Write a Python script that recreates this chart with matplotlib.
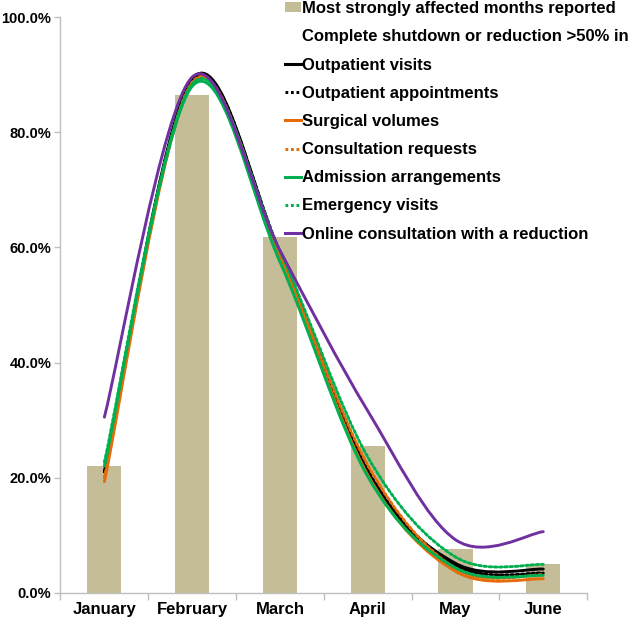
import numpy as np
import matplotlib
matplotlib.use('Agg')
from matplotlib import pyplot as plt
from matplotlib.path import Path
from matplotlib.patches import PathPatch, Patch
from matplotlib.lines import Line2D

# data (percent)
months = ['January', 'February', 'March', 'April', 'May', 'June']
most_affected = [22.0, 86.5, 61.8, 25.5, 7.6, 4.9]

outpatient_visits = [21.0, 89.3, 59.0, 20.8, 5.1, 4.1]
outpatient_appointments = [21.0, 89.0, 59.3, 21.3, 4.8, 3.4]
surgical_volumes = [19.3, 88.5, 58.0, 20.5, 3.7, 2.4]
consultation_requests = [20.0, 88.7, 58.6, 22.2, 4.2, 3.1]
admission_arrangements = [22.0, 88.0, 57.5, 20.2, 4.3, 3.0]
emergency_visits = [22.7, 88.4, 59.3, 23.6, 6.2, 4.9]
online_consultation = [30.5, 89.6, 59.5, 31.6, 9.2, 10.6]

series = [
    ('Outpatient visits', outpatient_visits, '#000000', '-'),
    ('Outpatient appointments', outpatient_appointments, '#000000', ':'),
    ('Surgical volumes', surgical_volumes, '#E46C0A', '-'),
    ('Consultation requests', consultation_requests, '#E46C0A', ':'),
    ('Admission arrangements', admission_arrangements, '#00B050', '-'),
    ('Emergency visits', emergency_visits, '#00B050', ':'),
    ('Online consultation with a reduction', online_consultation, '#7030A0', '-'),
]

plt.rcParams['font.family'] = ['Liberation Sans', 'DejaVu Sans']
plt.rcParams['font.weight'] = 'bold'


def smooth_path(xs, ys):
    # excel-like smoothed line: catmull-rom as cubic bezier
    pts = np.column_stack([xs, ys]).astype(float)
    ext = np.vstack([pts[0], pts, pts[-1]])
    verts = [pts[0]]
    codes = [Path.MOVETO]
    for i in range(len(pts) - 1):
        p0, p1, p2, p3 = ext[i], ext[i + 1], ext[i + 2], ext[i + 3]
        verts += [p1 + (p2 - p0) / 6, p2 - (p3 - p1) / 6, p2]
        codes += [Path.CURVE4] * 3
    return Path(verts, codes)


fig = plt.figure(figsize=(6.3, 6.18), dpi=100)
ax = fig.add_axes([0.096, 0.041, 0.836, 0.931])

x = np.arange(len(months))
ax.bar(x, most_affected, width=0.39, color='#C4BD97', zorder=1)

dot = (0, (0.9, 0.9))
for name, vals, col, ls in series:
    style = dot if ls == ':' else '-'
    ax.add_patch(PathPatch(smooth_path(x, vals), facecolor='none', edgecolor=col,
                           lw=2.1, linestyle=style, capstyle='round', zorder=3))

ax.set_xlim(-0.5, len(months) - 0.5)
ax.set_ylim(0, 100)
ax.set_yticks(np.arange(0, 101, 20))
ax.set_yticklabels(['%.1f%%' % v for v in np.arange(0, 101, 20)])
ax.set_xticks(x)
ax.set_xticklabels(months)
ax.set_xticks(np.arange(-0.5, len(months)), minor=True)
ax.tick_params(axis='x', which='major', length=0, pad=7, labelsize=12)
ax.tick_params(axis='x', which='minor', length=5, color='#BFBFBF', width=1)
ax.tick_params(axis='y', length=4, color='#BFBFBF', width=1, labelsize=10.5, pad=2.5)
for s in ['top', 'right']:
    ax.spines[s].set_visible(False)
for s in ['left', 'bottom']:
    ax.spines[s].set_color('#BFBFBF')
    ax.spines[s].set_linewidth(1)

handles = [Patch(facecolor='#C4BD97', edgecolor='none'),
           Line2D([], [], color='none')]
labels = ['Most strongly affected months reported',
          'Complete shutdown or reduction >50% in']
for name, vals, col, ls in series:
    handles.append(Line2D([], [], color=col, lw=2.2,
                          linestyle=dot if ls == ':' else '-'))
    labels.append(name)

fig.legend(handles, labels, loc='upper left', bbox_to_anchor=(0.452, 0.998),
           frameon=False, prop={'weight': 'bold', 'size': 12},
           handlelength=1.0, handleheight=0.55, handletextpad=0.05,
           labelspacing=0.79, borderpad=0, borderaxespad=0)

fig.savefig('out.png', dpi=100)
